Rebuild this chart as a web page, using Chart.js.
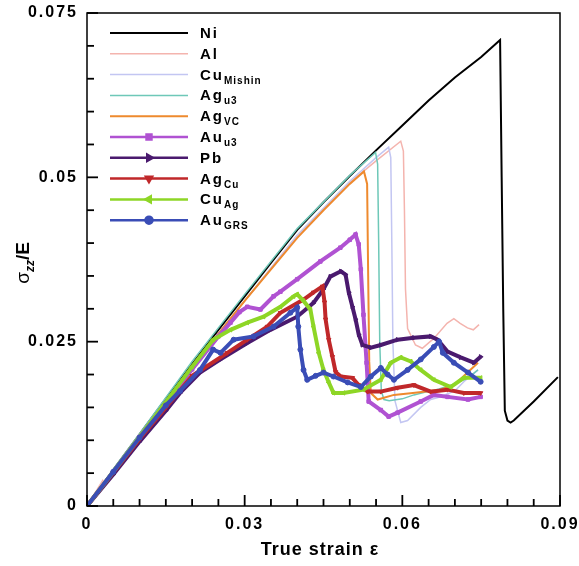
<!DOCTYPE html>
<html>
<head>
<meta charset="utf-8">
<script src="https://cdn.jsdelivr.net/npm/chart.js@4.4.1/dist/chart.umd.min.js"></script>
<style>
  body { margin: 0; background: #fff; }
  #wrap { width: 579px; height: 566px; }
</style>
</head>
<body>
<div id="wrap"><canvas id="grafica" width="579" height="566"></canvas></div>
<script>
// tick labels
const xTickLabels = ['0', '0.03', '0.06', '0.09'];
const yTickLabels = ['0', '0.025', '0.05', '0.075'];

// series: [true strain, sigma_zz/E]
const ni = [[0, 0], [0.005, 0.0055], [0.01, 0.0109], [0.015, 0.0163], [0.02, 0.0216], [0.025, 0.0268],
  [0.03, 0.0319], [0.035, 0.037], [0.04, 0.042], [0.045, 0.0462], [0.05, 0.0502], [0.055, 0.0541],
  [0.06, 0.0579], [0.065, 0.0617], [0.07, 0.0652], [0.075, 0.0683], [0.0786, 0.0709], [0.0789, 0.05],
  [0.0792, 0.03], [0.0795, 0.0145], [0.08, 0.013], [0.0806, 0.0127], [0.0812, 0.013], [0.085, 0.0159],
  [0.0896, 0.0196]];
const al = [[0, 0], [0.002, 0.0026], [0.003, 0.0039], [0.0035, 0.0033], [0.005, 0.0054], [0.01, 0.0107],
  [0.02, 0.0213], [0.03, 0.0312], [0.04, 0.0412], [0.05, 0.0492], [0.055, 0.0525], [0.0597, 0.0555],
  [0.0602, 0.054], [0.0604, 0.045], [0.0606, 0.033], [0.061, 0.027], [0.0625, 0.0245], [0.0638, 0.024],
  [0.066, 0.0255], [0.0685, 0.0278], [0.0698, 0.0285], [0.071, 0.0278], [0.0724, 0.0271], [0.0735, 0.0268],
  [0.0746, 0.0276]];
const cuMishin = [[0, 0], [0.005, 0.0054], [0.01, 0.0107], [0.02, 0.0213], [0.03, 0.0312], [0.04, 0.0412],
  [0.05, 0.0494], [0.055, 0.053], [0.0574, 0.0546], [0.0578, 0.053], [0.058, 0.04], [0.0582, 0.025],
  [0.0586, 0.016], [0.0597, 0.0127], [0.061, 0.013], [0.0635, 0.015], [0.0654, 0.0162], [0.0668, 0.0165],
  [0.07, 0.0175], [0.0717, 0.0189], [0.0744, 0.0207]];
const agU3 = [[0, 0], [0.005, 0.0056], [0.01, 0.011], [0.02, 0.022], [0.03, 0.0322], [0.04, 0.0422],
  [0.05, 0.0503], [0.0549, 0.0538], [0.0553, 0.052], [0.0555, 0.04], [0.0557, 0.025], [0.056, 0.0175],
  [0.0565, 0.0162], [0.0575, 0.016], [0.06, 0.0163], [0.0622, 0.0169], [0.0648, 0.0174], [0.067, 0.0178],
  [0.07, 0.0186], [0.0725, 0.0195], [0.0744, 0.0207]];
const agVC = [[0, 0], [0.005, 0.0054], [0.01, 0.0107], [0.02, 0.0212], [0.03, 0.0312], [0.04, 0.0408],
  [0.045, 0.045], [0.05, 0.049], [0.0527, 0.0509], [0.0533, 0.049], [0.0535, 0.035], [0.0537, 0.022],
  [0.054, 0.0172], [0.0553, 0.0162], [0.0584, 0.0169], [0.062, 0.0172], [0.0673, 0.0177], [0.07, 0.0185],
  [0.072, 0.02], [0.0744, 0.0218]];
const auU3 = [[0, 0], [0.005, 0.0052], [0.01, 0.0105], [0.015, 0.0157], [0.02, 0.0208], [0.025, 0.0258],
  [0.0273, 0.0279], [0.029, 0.0295], [0.0305, 0.0303], [0.033, 0.0299], [0.0355, 0.0319], [0.0368, 0.0326],
  [0.04, 0.0345], [0.0444, 0.0372], [0.0482, 0.0393], [0.05, 0.0405], [0.0511, 0.0413], [0.0517, 0.0398],
  [0.0521, 0.036], [0.0526, 0.0291], [0.0532, 0.0218], [0.0536, 0.0159], [0.0559, 0.0146], [0.0574, 0.0136],
  [0.0591, 0.0142], [0.0635, 0.0159], [0.066, 0.0169], [0.0686, 0.0166], [0.0725, 0.0162], [0.0749, 0.0166]];
const pb = [[0, 0], [0.005, 0.0048], [0.01, 0.0098], [0.015, 0.0145], [0.0177, 0.0172], [0.0215, 0.0203],
  [0.0254, 0.0223], [0.0305, 0.0248], [0.0349, 0.0268], [0.04, 0.0288], [0.0431, 0.0309], [0.045, 0.033],
  [0.0463, 0.0349], [0.0483, 0.0357], [0.0492, 0.0352], [0.0498, 0.0325], [0.0505, 0.0303], [0.0511, 0.0284],
  [0.0517, 0.0261], [0.0524, 0.0245], [0.054, 0.0241], [0.0559, 0.0245], [0.0591, 0.0253], [0.0622, 0.0256],
  [0.0654, 0.0258], [0.0667, 0.0253], [0.0686, 0.0235], [0.0711, 0.0226], [0.0736, 0.0218], [0.0749, 0.0227]];
const agCu = [[0, 0], [0.005, 0.0051], [0.01, 0.0102], [0.015, 0.015], [0.02, 0.0198], [0.0267, 0.0233],
  [0.0305, 0.0253], [0.0343, 0.0273], [0.0368, 0.0294], [0.0412, 0.0314], [0.0431, 0.0325], [0.0448, 0.0334],
  [0.0452, 0.031], [0.0454, 0.0284], [0.046, 0.0253], [0.0467, 0.0227], [0.0473, 0.0204], [0.0483, 0.0197],
  [0.0505, 0.0195], [0.0517, 0.0184], [0.0534, 0.0174], [0.0559, 0.0174], [0.0591, 0.018], [0.0622, 0.0184],
  [0.0654, 0.0174], [0.0686, 0.0177], [0.0717, 0.0172], [0.0749, 0.0172]];
const cuAg = [[0, 0], [0.005, 0.0052], [0.01, 0.0105], [0.015, 0.0158], [0.02, 0.0212], [0.024, 0.0253],
  [0.0273, 0.0268], [0.0305, 0.0279], [0.0336, 0.0288], [0.0368, 0.0303], [0.0393, 0.0319], [0.04, 0.0322],
  [0.0412, 0.0312], [0.0425, 0.0299], [0.0431, 0.0273], [0.0441, 0.0233], [0.045, 0.0207], [0.046, 0.0188],
  [0.0469, 0.0172], [0.0488, 0.0172], [0.0526, 0.0177], [0.0559, 0.0192], [0.0578, 0.0218], [0.0597, 0.0226],
  [0.0616, 0.022], [0.0635, 0.0207], [0.066, 0.0192], [0.0692, 0.0181], [0.0717, 0.0195], [0.0749, 0.0195]];
const auGRS = [[0, 0], [0.005, 0.0052], [0.01, 0.0104], [0.015, 0.0153], [0.0177, 0.0175], [0.0215, 0.0207],
  [0.024, 0.0238], [0.0254, 0.0233], [0.0279, 0.0253], [0.0317, 0.0258], [0.0355, 0.0273], [0.0387, 0.0294],
  [0.04, 0.0302], [0.0402, 0.0273], [0.0406, 0.0238], [0.0412, 0.0207], [0.0419, 0.0192], [0.0435, 0.0198],
  [0.045, 0.0203], [0.0469, 0.0197], [0.0496, 0.0188], [0.0521, 0.0181], [0.054, 0.0197], [0.0559, 0.021],
  [0.0572, 0.02], [0.0584, 0.0192], [0.061, 0.0207], [0.0635, 0.0223], [0.066, 0.0242], [0.067, 0.025],
  [0.0677, 0.0233], [0.0698, 0.0218], [0.0725, 0.0203], [0.0749, 0.0189]];

const FONT = '"Liberation Sans", Arial, sans-serif';

// name, subscript, data, colour, width, marker, rotation
const series = [
  ['Ni', '', ni, '#000000', 2, false, 0],
  ['Al', '', al, '#f4b4ae', 1.5, false, 0],
  ['Cu', 'Mishin', cuMishin, '#c3c6f2', 1.5, false, 0],
  ['Ag', 'u3', agU3, '#6ec8b8', 1.5, false, 0],
  ['Ag', 'VC', agVC, '#ee8a2e', 2, false, 0],
  ['Au', 'u3', auU3, '#b052d2', 4, 'rect', 0],
  ['Pb', '', pb, '#4a1a6e', 4, 'triangle', 90],
  ['Ag', 'Cu', agCu, '#c0282a', 4, 'triangle', 180],
  ['Cu', 'Ag', cuAg, '#8ed626', 4, 'triangle', -90],
  ['Au', 'GRS', auGRS, '#3a4db6', 4, 'circle', 0],
];

const datasets = series.map((s, i) => ({
  label: s[0] + s[1],
  data: s[2].map((p) => ({ x: p[0], y: p[1] })),
  borderColor: s[3],
  backgroundColor: s[3],
  borderWidth: s[4],
  pointRadius: s[5] ? 2.5 : 0,
  pointStyle: s[5] || 'circle',
  pointRotation: s[6],
  pointBorderWidth: 1,
  tension: 0,
  order: series.length - i,
}));

const framePlugin = {
  id: 'frame',
  beforeDraw(chart) {
    chart.ctx.letterSpacing = '2px';
  },
  afterDraw(chart) {
    const { ctx, chartArea: a } = chart;
    const xs = chart.scales.x;
    const ys = chart.scales.y;
    ctx.save();
    ctx.strokeStyle = '#000';
    ctx.lineWidth = 1.5;
    ctx.strokeRect(a.left, a.top, a.right - a.left, a.bottom - a.top);
    // ticks pointing inwards
    ctx.lineWidth = 1.8;
    for (let i = 0; i <= 15; i++) {
      const py = ys.getPixelForValue(i * 0.005);
      const len = i % 5 === 0 ? 11 : 7;
      ctx.beginPath();
      ctx.moveTo(a.left, py);
      ctx.lineTo(a.left + len, py);
      ctx.stroke();
    }
    for (let i = 0; i <= 18; i++) {
      const px = xs.getPixelForValue(i * 0.005);
      const len = i % 6 === 0 ? 11 : 7;
      ctx.beginPath();
      ctx.moveTo(px, a.bottom);
      ctx.lineTo(px, a.bottom - len);
      ctx.stroke();
    }

    // legend
    series.forEach((s, i) => {
      const y = 33 + i * 20.8;
      ctx.strokeStyle = s[3];
      ctx.lineWidth = s[5] ? 2.5 : s[4];
      ctx.beginPath();
      ctx.moveTo(110, y);
      ctx.lineTo(188, y);
      ctx.stroke();
      if (s[5]) {
        ctx.fillStyle = s[3];
        Chart.helpers.drawPoint(ctx, { pointStyle: s[5], radius: 3.5, rotation: s[6], borderWidth: 1 }, 149, y);
      }
      ctx.fillStyle = '#000';
      ctx.textBaseline = 'alphabetic';
      ctx.textAlign = 'left';
      ctx.letterSpacing = '2px';
      ctx.font = 'bold 15px ' + FONT;
      ctx.fillText(s[0], 200, y + 5);
      if (s[1]) {
        const w = ctx.measureText(s[0]).width;
        ctx.letterSpacing = '1px';
        ctx.font = 'bold 10px ' + FONT;
        ctx.fillText(s[1], 200 + w, y + 9);
      }
    });

    // x title
    ctx.letterSpacing = '1px';
    ctx.font = 'bold 18px ' + FONT;
    ctx.textAlign = 'center';
    ctx.fillText('True strain \u03b5', 320, 555);

    // y title
    ctx.translate(29, 263);
    ctx.rotate(-Math.PI / 2);
    ctx.textAlign = 'left';
    ctx.letterSpacing = '0px';
    ctx.font = '19px ' + FONT;
    const w1 = ctx.measureText('\u03c3').width;
    ctx.font = 'italic bold 12px ' + FONT;
    const w2 = ctx.measureText('zz').width;
    ctx.font = 'bold 19px ' + FONT;
    const w3 = ctx.measureText('/E').width;
    let x0 = -(w1 + w2 + w3) / 2;
    ctx.font = '19px ' + FONT;
    ctx.fillText('\u03c3', x0, 0);
    x0 += w1;
    ctx.font = 'italic bold 12px ' + FONT;
    ctx.fillText('zz', x0, 5);
    x0 += w2;
    ctx.font = 'bold 19px ' + FONT;
    ctx.fillText('/E', x0, 0);
    ctx.restore();
  },
};

// eslint-disable-next-line no-new, no-undef
new Chart(document.getElementById('grafica'), {
  type: 'line',
  data: { datasets },
  options: {
    responsive: false,
    animation: false,
    devicePixelRatio: 1,
    layout: { padding: { left: 0, top: 13, right: 19, bottom: 0 } },
    plugins: { legend: { display: false }, tooltip: { enabled: false } },
    scales: {
      x: {
        type: 'linear',
        min: 0,
        max: 0.09,
        grid: { display: false },
        border: { display: false },
        ticks: {
          stepSize: 0.03,
          padding: 1,
          color: '#000',
          font: { family: FONT, size: 16, weight: 'bold' },
          callback: (v, i) => xTickLabels[i],
        },
        afterFit: (scale) => {
          scale.height = 60;
          scale.paddingLeft = 0;
          scale.paddingRight = 0;
        },
      },
      y: {
        min: 0,
        max: 0.075,
        grid: { display: false },
        border: { display: false },
        ticks: {
          stepSize: 0.025,
          padding: 1,
          color: '#000',
          font: { family: FONT, size: 16, weight: 'bold' },
          callback: (v, i) => yTickLabels[i],
        },
        afterFit: (scale) => { scale.width = 87; },
      },
    },
  },
  plugins: [framePlugin],
});
</script>
</body>
</html>
